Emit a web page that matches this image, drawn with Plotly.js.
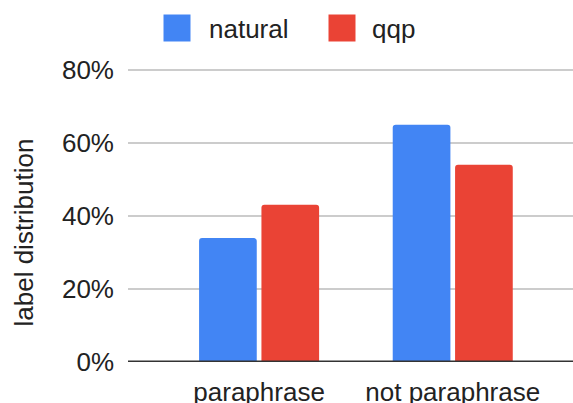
<!DOCTYPE html>
<html>
<head>
<meta charset="utf-8">
<script src="https://cdn.plot.ly/plotly-3.0.1.min.js"></script>
<style>html,body{margin:0;padding:0;background:#fff;}#chart{width:573px;height:403px;}</style>
</head>
<body>
<div id="chart"></div>
<script>
// ---- data ----
var categories = ['paraphrase', 'not paraphrase'];
var seriesNames = ['natural', 'qqp'];
var naturalValues = [33.9, 64.9];
var qqpValues = [43.0, 54.0];
var yTickValues = [0, 20, 40, 60, 80];
var yTickLabels = ['0%', '20%', '40%', '60%', '80%'];
var yTitle = 'label distribution';

var colors = ['#4285F4', '#EA4335'];
var FONT = 'Liberation Sans, Arial, sans-serif';
var TXT = '#222222';

var W = 573, H = 403;
var mL = 128, mR = 0, mT = 66, mB = 41;
var pw = W - mL - mR, ph = H - mT - mB;
function px2paperX(px) { return (px - mL) / pw; }
function px2paperY(py) { return (H - mB - py) / ph; }

var traces = [
  {type: 'bar', name: seriesNames[0], x: categories, y: naturalValues,
   marker: {color: colors[0], cornerradius: 3}, showlegend: false, hoverinfo: 'none'},
  {type: 'bar', name: seriesNames[1], x: categories, y: qqpValues,
   marker: {color: colors[1], cornerradius: 3}, showlegend: false, hoverinfo: 'none'}
];

// custom legend (large squares)
var legendSquares = [[163.5, 190.5], [328.5, 355.5]];
var legendText = [209, 372];
var shapes = [{
  type: 'line', xref: 'paper', yref: 'y', x0: 0, x1: 1, y0: 0, y1: 0,
  line: {color: '#333333', width: 3}, layer: 'above'
}];
var annotations = [];
for (var i = 0; i < seriesNames.length; i++) {
  shapes.push({
    type: 'rect', xref: 'paper', yref: 'paper',
    x0: px2paperX(legendSquares[i][0]), x1: px2paperX(legendSquares[i][1]),
    y0: px2paperY(41.5), y1: px2paperY(14.5),
    fillcolor: colors[i], line: {width: 0}
  });
  annotations.push({
    xref: 'paper', yref: 'paper', x: px2paperX(legendText[i]), y: px2paperY(29),
    xanchor: 'left', yanchor: 'middle', showarrow: false, text: seriesNames[i],
    font: {family: FONT, size: 26, color: TXT}, borderpad: 0, borderwidth: 0
  });
}
annotations.push({
  xref: 'paper', yref: 'paper', x: px2paperX(23.5), y: px2paperY(233),
  xanchor: 'center', yanchor: 'middle', showarrow: false, textangle: -90,
  text: yTitle, font: {family: FONT, size: 26, color: TXT}, borderpad: 0, borderwidth: 0
});

var layout = {
  width: W, height: H,
  margin: {l: mL, r: mR, t: mT, b: mB, pad: 0},
  paper_bgcolor: '#ffffff', plot_bgcolor: '#ffffff',
  font: {family: FONT, size: 26, color: TXT},
  barmode: 'group', bargap: 0.356, bargroupgap: 0.075,
  showlegend: false,
  xaxis: {
    type: 'category', range: [-0.677, 1.621], showgrid: false, zeroline: false,
    showline: false, ticks: '', tickfont: {family: FONT, size: 26, color: TXT},
    ticklabelstandoff: 12, fixedrange: true
  },
  yaxis: {
    range: [0, 81], tickmode: 'array', tickvals: yTickValues, ticktext: yTickLabels,
    showgrid: true, gridcolor: '#CCCCCC', gridwidth: 2,
    zeroline: false, showline: false, ticks: '',
    tickfont: {family: FONT, size: 26, color: TXT},
    ticklabelstandoff: 13, fixedrange: true
  },
  shapes: shapes,
  annotations: annotations
};

Plotly.newPlot('chart', traces, layout, {displayModeBar: false, staticPlot: true});
</script>
</body>
</html>
